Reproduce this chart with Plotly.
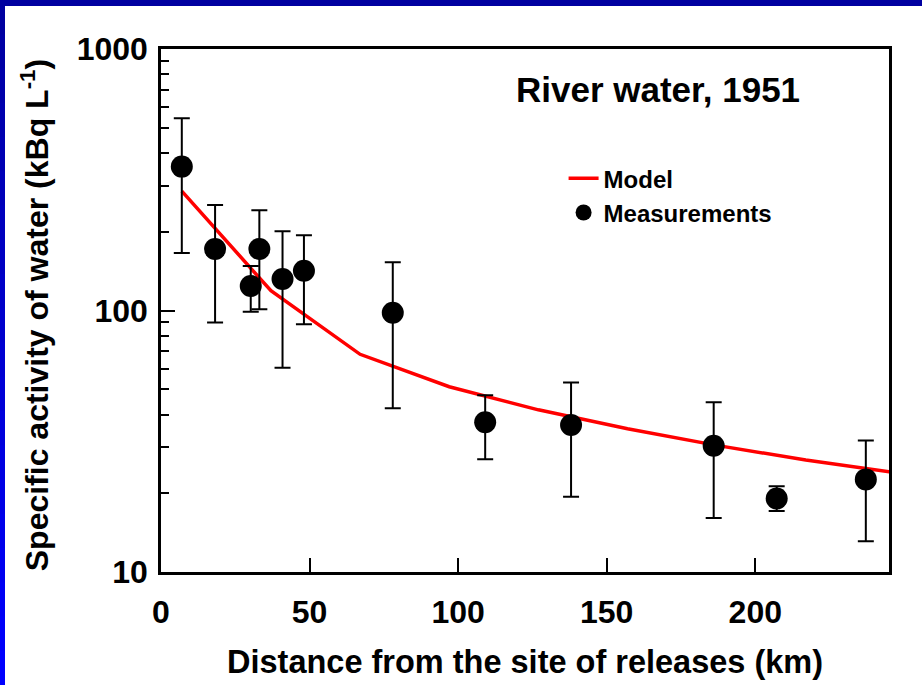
import plotly.graph_objects as go

# Measurements
distance_km = [7.0, 18.2, 30.2, 33.1, 40.9, 48.1, 78.0, 109.1, 138.0, 186.0, 207.2, 237.2]
activity = [355, 172, 124, 172, 132, 142, 98, 37.4, 36.5, 30.4, 19.1, 22.6]
upper = [544, 253, 148, 242, 201, 194, 153, 47.4, 53.1, 44.6, 21.3, 31.8]
lower = [166, 90, 99, 101, 60.4, 88.5, 42.3, 27.0, 19.4, 16.1, 17.1, 13.1]

# Model
model_km = [7, 37, 67, 97, 127, 157, 187, 217, 247]
model_activity = [286, 119, 68, 51.1, 41.7, 35.3, 30.5, 26.8, 24.0]

x_ticks = [0, 50, 100, 150, 200]
y_ticks = [10, 100, 1000]
y_minor = [20, 30, 40, 50, 60, 70, 80, 90, 200, 300, 400, 500, 600, 700, 800, 900]

FONT = "Arial, Liberation Sans, Helvetica, sans-serif"

err_plus = [u - a for u, a in zip(upper, activity)]
err_minus = [a - l for a, l in zip(activity, lower)]

fig = go.Figure()
fig.add_trace(go.Scatter(
    x=model_km, y=model_activity, mode="lines", name="Model",
    line=dict(color="#ff0000", width=3.5),
))
fig.add_trace(go.Scatter(
    x=distance_km, y=activity, mode="markers", name="Measurements",
    marker=dict(color="black", size=22),
    error_y=dict(type="data", symmetric=False, array=err_plus, arrayminus=err_minus,
                 color="black", thickness=2, width=8),
))

axis_common = dict(
    showline=True, linecolor="black", linewidth=2.5, mirror=True,
    showgrid=False, zeroline=False, ticks="inside", tickcolor="black",
    tickwidth=2, ticklen=14,
    tickfont=dict(family=FONT, size=32, color="black", weight="bold"),
)

fig.update_xaxes(
    range=[0, 245], tickvals=x_ticks, ticklabelstandoff=10, **axis_common
)
fig.update_yaxes(
    type="log", range=[1, 3], tickvals=y_ticks, ticklabelstandoff=4,
    minor=dict(tickvals=y_minor, ticks="inside", ticklen=8, tickwidth=2, tickcolor="black"),
    **axis_common
)

annotations = [
    dict(text="<b>River water, 1951</b>", x=0.683, y=0.922, xref="paper", yref="paper",
         xanchor="center", yanchor="middle", showarrow=False,
         font=dict(family=FONT, size=35, color="black")),
    dict(text="<b>Distance from the site of releases (km)</b>", x=0.5, y=-0.172,
         xref="paper", yref="paper", xanchor="center", yanchor="middle", showarrow=False,
         font=dict(family=FONT, size=32.5, color="black")),
    dict(text="<b>Specific activity of water (kBq L<sup>-1</sup>)</b>", x=-0.173, y=0.491,
         xref="paper", yref="paper", xanchor="center", yanchor="middle", showarrow=False,
         textangle=-90, font=dict(family=FONT, size=32, color="black")),
]

# blue frame (top band and left band with a vertical gradient)
shapes = [dict(type="rect", xref="paper", yref="paper", x0=-0.25, x1=1.1,
               y0=1.0 + 43 / 523, y1=1.2, fillcolor="#0000a0", line=dict(width=0), layer="above")]
n = 20
for i in range(n):
    p0 = 685 * i / n
    p1 = 685 * (i + 1) / n + 2
    t = i / (n - 1)
    b = int(160 + (255 - 160) * t)
    shapes.append(dict(type="rect", xref="paper", yref="paper",
                       x0=(0 - 161) / 728 - 0.01, x1=(5 - 161) / 728,
                       y0=(572 - p1) / 523, y1=(572 - p0) / 523,
                       fillcolor=f"rgb(0,0,{b})", line=dict(width=0), layer="above"))

fig.update_layout(
    width=922, height=685,
    margin=dict(l=161, r=33, t=49, b=113),
    paper_bgcolor="white", plot_bgcolor="white",
    showlegend=True,
    legend=dict(x=0.553, y=0.795, xanchor="left", yanchor="top",
                bgcolor="rgba(0,0,0,0)",
                font=dict(family=FONT, size=24, color="black", weight="bold"),
                tracegroupgap=0),
    annotations=annotations,
    shapes=shapes,
)

fig.write_html(
    "out.html",
    config={"displayModeBar": False},
    post_script="document.body.style.margin='0';document.body.style.padding='0';document.body.style.overflow='hidden';",
)
